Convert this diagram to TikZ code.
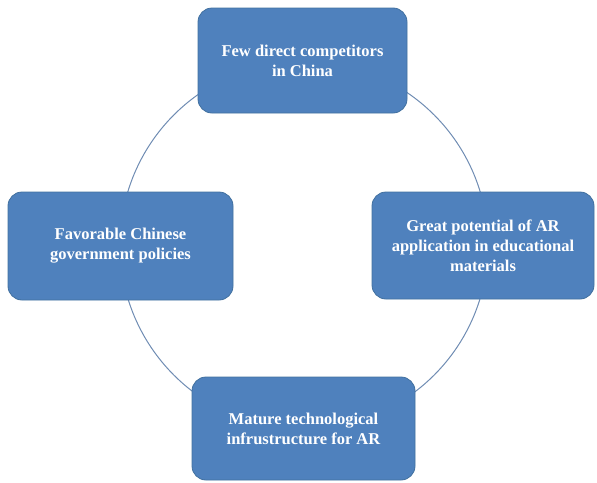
\documentclass[tikz,border=0pt]{standalone}
\usepackage{fontspec}
\setmainfont{Liberation Serif}
\usepackage{tikz}
\usetikzlibrary{shapes, positioning, calc}

\definecolor{boxblue}{HTML}{4F81BD}
\definecolor{boxedge}{HTML}{41709F}
\definecolor{ringline}{HTML}{6F8CB3}

\tikzset{
  factor/.style={draw=boxedge, fill=boxblue, rounded corners=14pt, line width=0.8pt,
    text=white, align=center, inner sep=0pt,
    font=\fontsize{16.5}{20}\selectfont\bfseries},
  ring/.style={draw=ringline, line width=1pt}
}

\begin{document}
\begin{tikzpicture}[x=1pt,y=-1pt]
\useasboundingbox (0,0) rectangle (597,482);
\coordinate (hub) at (304,245);
\draw[ring] (hub) circle (184);
\node[factor, minimum width=209pt, minimum height=105pt] (rivals) at (302.5,60.5)
  {Few direct competitors\\in China};
\node[factor, minimum width=225pt, minimum height=108pt] (policy) at (120.5,246)
  {Favorable Chinese\\government policies};
\node[factor, minimum width=222pt, minimum height=107pt] (edu) at (483,245.5)
  {\raisebox{-7pt}{\parbox{215pt}{\centering Great potential of AR\\application in educational\\materials}}};
\node[factor, minimum width=223pt, minimum height=103pt] (infra) at (303.5,428.5)
  {\raisebox{6pt}{\parbox{215pt}{\centering Mature technological\\infrustructure for AR}}};
\end{tikzpicture}
\end{document}
